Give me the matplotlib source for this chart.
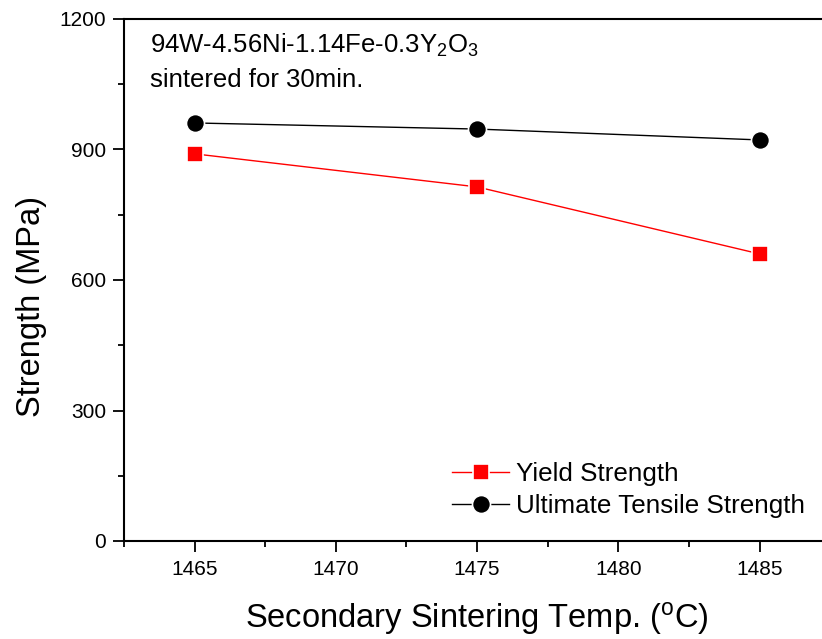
import matplotlib
matplotlib.use('Agg')
import matplotlib.pyplot as plt
from matplotlib.ticker import MultipleLocator

temps = [1465, 1475, 1485]
yield_strength = [890, 814, 660]
uts = [961, 947, 922]

plt.rcParams['font.family'] = ['Liberation Sans', 'DejaVu Sans']

fig = plt.figure(figsize=(8.22, 6.39), dpi=100)
ax = fig.add_axes([124/822, 1 - 541/639, 1 - 124/822 + 0.01, (541 - 19)/639])

ax.plot(temps, yield_strength, color='red', lw=1, marker='s', ms=11.5,
        mfc='red', mec='white', mew=1.2, label='Yield Strength')
ax.plot(temps, uts, color='black', lw=1, marker='o', ms=13,
        mfc='black', mec='white', mew=1.2, label='Ultimate Tensile Strength')

ax.set_xlim(1462.5, 1487.5)
ax.set_ylim(0, 1200)
ax.xaxis.set_major_locator(MultipleLocator(5))
ax.xaxis.set_minor_locator(MultipleLocator(2.5))
ax.yaxis.set_major_locator(MultipleLocator(300))
ax.yaxis.set_minor_locator(MultipleLocator(150))
ax.tick_params(which='major', direction='out', length=8, width=1.3, labelsize=15)
ax.tick_params(which='minor', direction='out', length=4.5, width=1.3)
ax.tick_params(axis='x', pad=6)
ax.tick_params(axis='y', pad=5)
ax.spines['right'].set_visible(False)
for s in ['left', 'bottom', 'top']:
    ax.spines[s].set_linewidth(1.5)

ax.set_xlabel('Secondary Sintering Temp. ($\\mathregular{^oC}$)', fontsize=23.5, labelpad=15)
ax.set_ylabel('Strength (MPa)', fontsize=23.5)
ax.yaxis.set_label_coords(-0.109, 0.45)

ax.text(0.037, 0.975, '94W-4.56Ni-1.14Fe-0.3Y$\\mathregular{_2}$O$\\mathregular{_3}$\nsintered for 30min.',
        transform=ax.transAxes, fontsize=18.5, va='top', ha='left', linespacing=1.45)

ax.legend(loc='lower right', bbox_to_anchor=(0.99, 0.01), frameon=False, fontsize=18.7,
          handlelength=2.2, handletextpad=0.25, labelspacing=0.3, borderaxespad=0.3)

fig.savefig('out.png', dpi=100)
